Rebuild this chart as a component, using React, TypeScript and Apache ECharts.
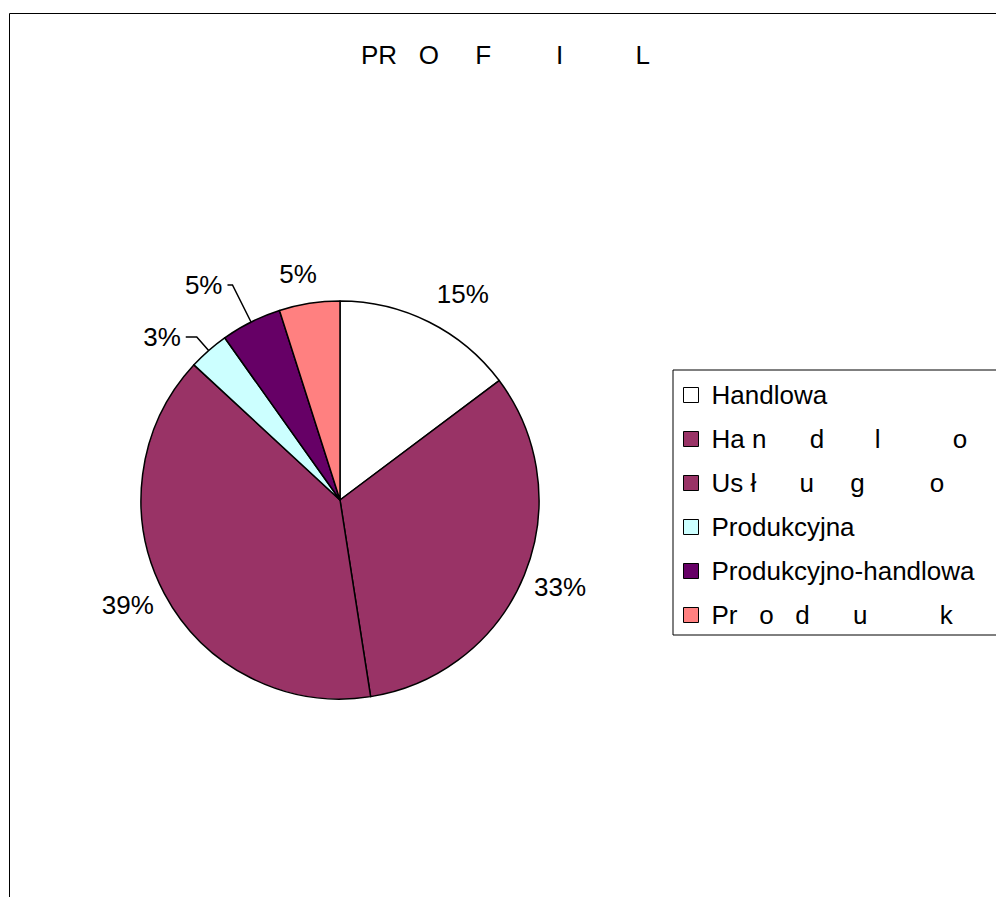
import React, { useEffect, useRef } from "react";
import * as echarts from "echarts";

// ---- data ----
const titleText = "PR   O     F         I          L";
const categories = [
  "Handlowa",
  "Ha n      d       l          o",
  "Us ł      u     g         o",
  "Produkcyjna",
  "Produkcyjno-handlowa",
  "Pr   o   d      u          k",
];
const counts = [9, 20, 24, 2, 3, 3];

// ---- styles ----
const sliceColors = ["#FFFFFF", "#993366", "#993366", "#CCFFFF", "#660066", "#FF8080"];
// label placement tweaks (leader line lengths) per slice
const labelLen = [31, 31, 25, 18, 41.5, 30];
const labelLen2 = [-11, -24, -16.5, 11, 5, -17];
const labelLineShow = [false, false, false, true, true, false];

const FONT = 'Arial, "Liberation Sans", sans-serif';

export default function App() {
  const ref = useRef<HTMLDivElement>(null);
  useEffect(() => {
    if (!ref.current) return;
    const chart = echarts.init(ref.current, undefined, { renderer: "svg" });
    chart.setOption({
      animation: false,
      backgroundColor: "#FFFFFF",
      title: {
        text: titleText,
        left: 361,
        top: 42,
        padding: 0,
        textStyle: { fontFamily: FONT, fontSize: 26, fontWeight: "normal", color: "#000" },
      },
      legend: {
        orient: "vertical",
        left: 673,
        top: 370,
        padding: [12, 40, 7, 10],
        itemGap: 18,
        itemWidth: 15,
        itemHeight: 15,
        borderColor: "#000",
        borderWidth: 1,
        icon: "rect",
        itemStyle: { borderColor: "#000", borderWidth: 1 },
        textStyle: { fontFamily: FONT, fontSize: 26, color: "#000", padding: [0, 0, 0, 8] },
        data: categories,
      },
      graphic: [
        {
          type: "rect",
          shape: { x: 9.5, y: 13.5, width: 1200, height: 1200 },
          style: { fill: "none", stroke: "#000", lineWidth: 1 },
          silent: true,
          z: -1,
        },
      ],
      series: [
        {
          type: "pie",
          center: [340, 500],
          radius: 199,
          startAngle: 90,
          clockwise: true,
          avoidLabelOverlap: false,
          percentPrecision: 0,
          itemStyle: { borderColor: "#000", borderWidth: 1.5 },
          label: {
            show: true,
            position: "outside",
            formatter: "{d}%",
            fontFamily: FONT,
            fontSize: 26,
            color: "#000",
            distanceToLabelLine: 5,
          },
          labelLine: { lineStyle: { color: "#000", width: 1.5 } },
          emphasis: { disabled: true },
          data: categories.map((name, i) => ({
            name,
            value: counts[i],
            itemStyle: { color: sliceColors[i] },
            labelLine: {
              show: labelLineShow[i],
              length: labelLen[i],
              length2: labelLen2[i],
            },
          })),
        },
      ],
    });
    return () => chart.dispose();
  }, []);
  return (
    <div
      ref={ref}
      style={{ position: "fixed", left: 0, top: 0, width: 996, height: 897, overflow: "hidden" }}
    />
  );
}
